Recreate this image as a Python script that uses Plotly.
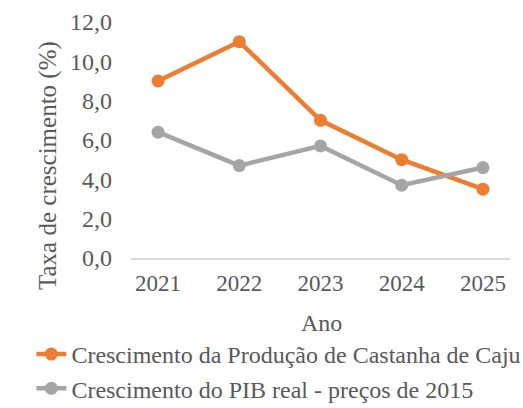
import plotly.graph_objects as go

anos = ["2021", "2022", "2023", "2024", "2025"]
castanha = [9.0, 11.0, 7.0, 5.0, 3.5]
pib = [6.4, 4.7, 5.7, 3.7, 4.6]
y_ticks = [0, 2, 4, 6, 8, 10, 12]

font_family = "Liberation Serif, Times New Roman, serif"
txt = "#595959"

W, H = 523, 408
ML, MR, MT, MB = 131, 13, 22, 150
PW, PH = W - ML - MR, H - MT - MB

fig = go.Figure()
fig.add_trace(go.Scatter(
    x=anos, y=castanha, mode="lines+markers",
    name="Crescimento da Produção de Castanha de Caju",
    line=dict(color="#ED7D31", width=4.5),
    marker=dict(size=13, color="#ED7D31"),
))
fig.add_trace(go.Scatter(
    x=anos, y=pib, mode="lines+markers",
    name="Crescimento do PIB real - preços de 2015",
    line=dict(color="#A5A5A5", width=4.5),
    marker=dict(size=13, color="#A5A5A5"),
))

fig.update_layout(
    width=W, height=H,
    margin=dict(l=ML, r=MR, t=MT, b=MB),
    paper_bgcolor="white", plot_bgcolor="white",
    separators=",.",
    font=dict(family=font_family, color=txt, size=24),
    showlegend=True,
    legend=dict(
        orientation="h",
        xref="container", yref="container",
        x=0.06, y=1 - 332 / H, xanchor="left", yanchor="top",
        entrywidth=490, entrywidthmode="pixels",
        font=dict(size=24, color=txt), tracegroupgap=0,
        bgcolor="rgba(0,0,0,0)",
    ),
    xaxis=dict(
        type="category", showgrid=False, showline=True, linecolor="#D9D9D9",
        linewidth=1.5, ticks="", ticklabelstandoff=4,
        tickfont=dict(size=23, color=txt),
        zeroline=False, automargin=False,
    ),
    yaxis=dict(
        range=[0, 12], tickvals=y_ticks, tickformat=".1f",
        showgrid=False, showline=False, zeroline=False, ticks="",
        ticklabelstandoff=18,
        tickfont=dict(size=24, color=txt),
        automargin=False,
    ),
    annotations=[
        dict(text="Taxa de crescimento (%)", textangle=-90, showarrow=False,
             xref="paper", yref="paper",
             x=(48 - ML) / PW, y=(H - MB - 166) / PH,
             xanchor="center", yanchor="middle",
             font=dict(size=25, color=txt)),
        dict(text="Ano", showarrow=False,
             xref="paper", yref="paper",
             x=(321 - ML) / PW, y=(H - MB - 323) / PH,
             xanchor="center", yanchor="middle",
             font=dict(size=24, color=txt)),
    ],
)

fig.write_html("out.html", config={"displayModeBar": False},
               post_script="document.body.style.margin='0';")
